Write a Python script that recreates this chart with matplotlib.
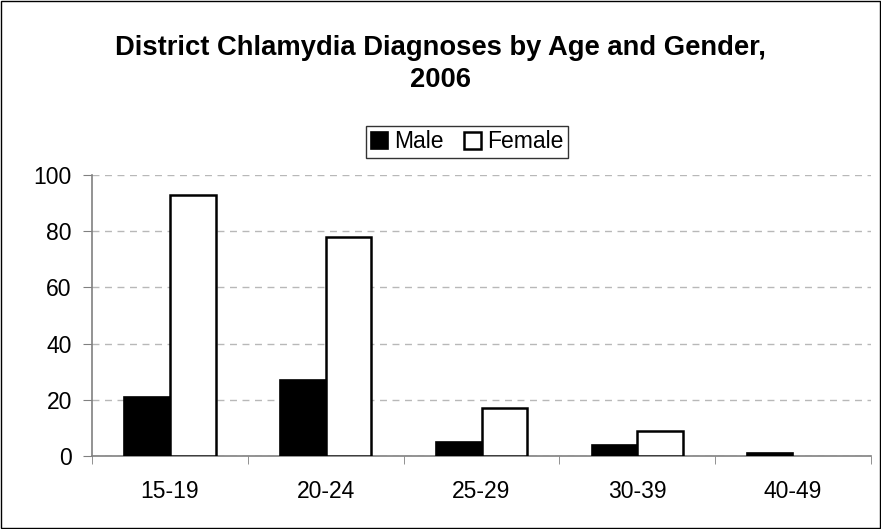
import numpy as np
import matplotlib.pyplot as plt
from matplotlib.patches import Rectangle

plt.rcParams['font.family'] = ['Liberation Sans', 'DejaVu Sans']

age_groups = ['15-19', '20-24', '25-29', '30-39', '40-49']
male = [21, 27, 5, 4, 1]
female = [93, 78, 17, 9, 0]

fig = plt.figure(figsize=(8.81, 5.29), dpi=100)
W, H = 881, 529
ax = fig.add_axes([92 / W, 1 - 456 / H, (871 - 92) / W, (456 - 175) / H])

x = np.arange(len(age_groups))
bw = 0.293
ax.bar(x - bw / 2, male, bw, color='black', edgecolor='black', linewidth=1.2, label='Male', zorder=3)
fbars = ax.bar(x + bw / 2, female, bw, color='white', edgecolor='black', linewidth=1.8, label='Female', zorder=3)
# Excel draws nothing for zero-height bars
for p in fbars:
    if p.get_height() == 0:
        p.set_visible(False)

ax.set_xlim(-0.5, len(age_groups) - 0.5)
ax.set_ylim(0, 100)
ax.set_yticks(range(0, 101, 20))
ax.set_xticks(x)
ax.set_xticklabels(age_groups)
ax.set_xticks(np.arange(-0.5, len(age_groups)), minor=True)
ax.tick_params(axis='x', which='major', length=0, pad=17, labelsize=16.5)
ax.tick_params(axis='x', which='minor', length=5.5, color='#808080', direction='out')
ax.tick_params(axis='y', length=6.5, color='#808080', direction='out', pad=8, labelsize=16.5)

for s in ['top', 'right']:
    ax.spines[s].set_visible(False)
for s in ['left', 'bottom']:
    ax.spines[s].set_color('#808080')
    ax.spines[s].set_linewidth(1.2)

ax.yaxis.grid(True, linestyle=(0, (5, 4)), color='#b8b8b8', linewidth=1)
ax.set_axisbelow(True)

fig.text(0.5, 1 - 48 / H, 'District Chlamydia Diagnoses by Age and Gender,',
         ha='center', va='center', fontsize=19.7, fontweight='bold')
fig.text(0.5, 1 - 80 / H, '2006', ha='center', va='center', fontsize=19.7, fontweight='bold')

leg = fig.legend(loc='center', bbox_to_anchor=(467 / W, 1 - 142 / H), ncol=2,
                 fontsize=16.5, frameon=True, fancybox=False, edgecolor='black',
                 handlelength=0.75, handleheight=0.75, handletextpad=0.25,
                 columnspacing=0.9, borderpad=0.2, borderaxespad=0)
leg.get_frame().set_linewidth(1)

fig.patches.append(Rectangle((1 / W, 1 / H), 1 - 2 / W, 1 - 2 / H, transform=fig.transFigure,
                             fill=False, edgecolor='black', linewidth=1))

fig.savefig('out.png', dpi=100)
